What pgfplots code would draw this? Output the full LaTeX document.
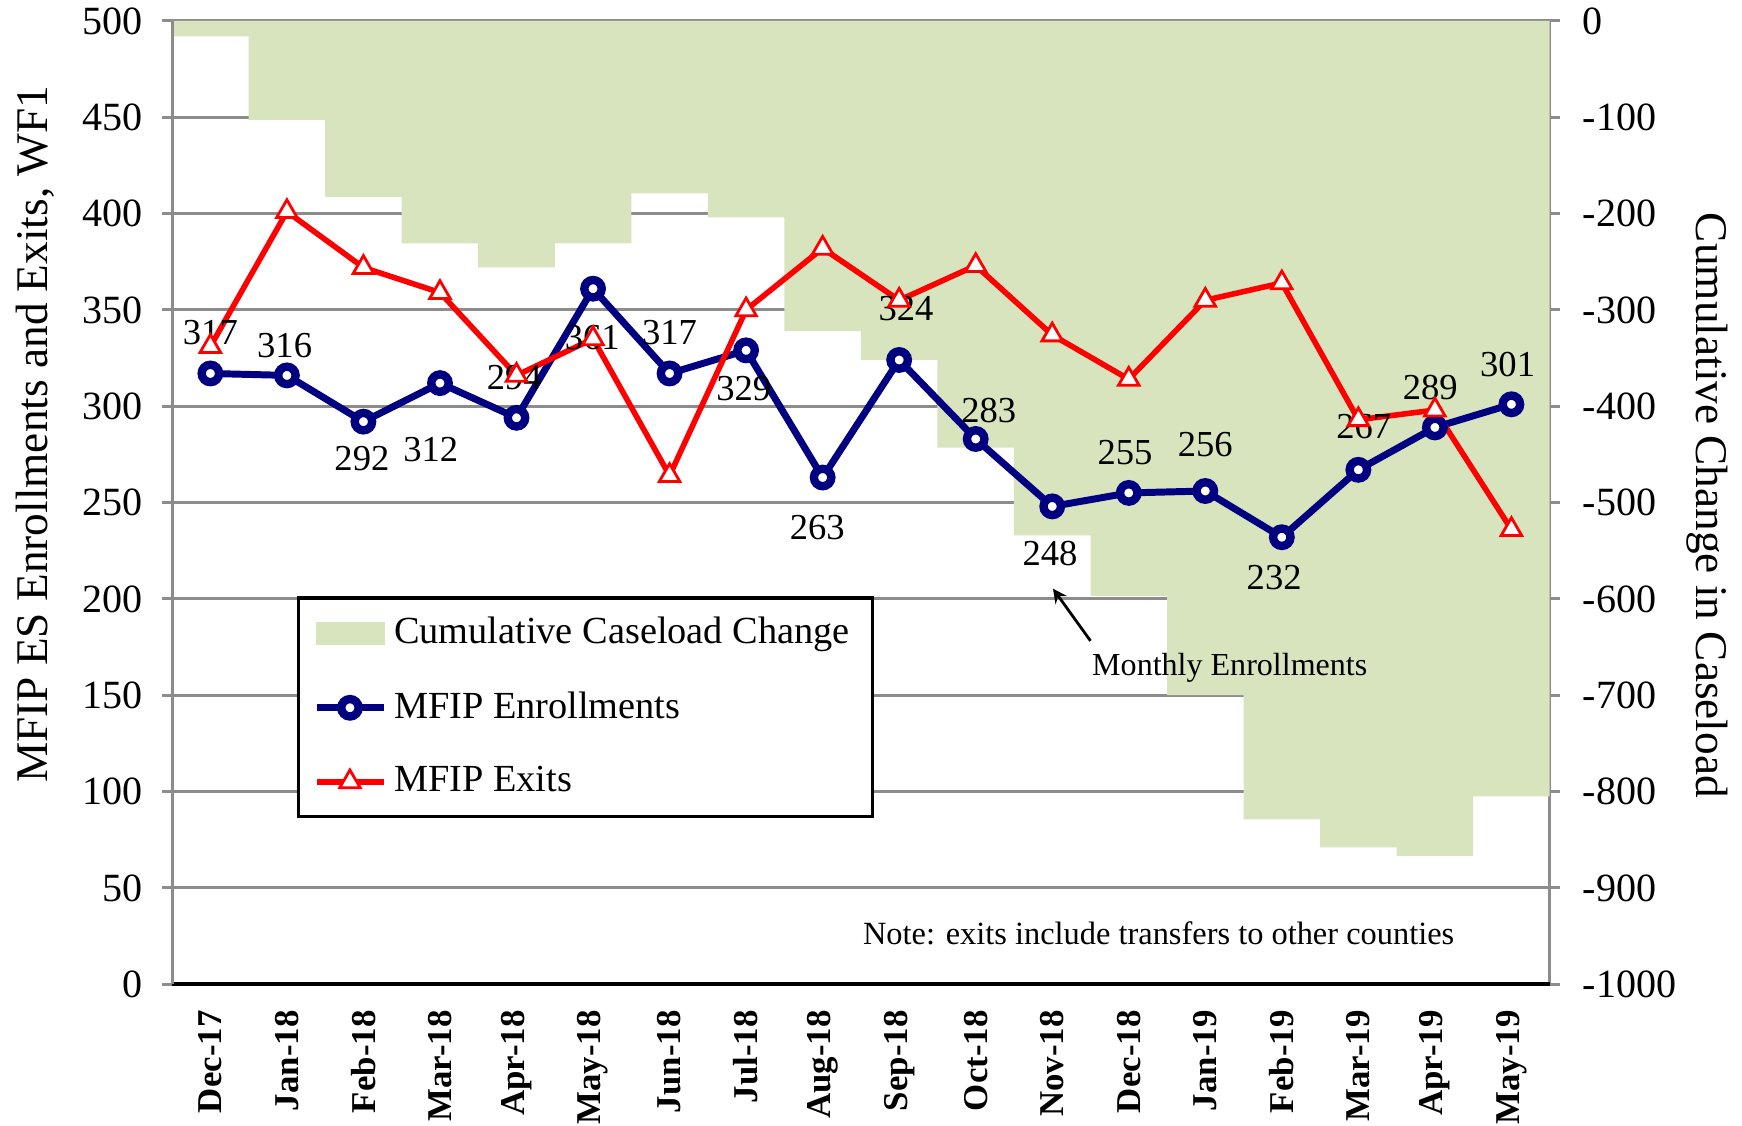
\documentclass[border=0pt]{standalone}
\usepackage{fontspec}
\setmainfont{Liberation Serif}
\usepackage{pgfplots}
\pgfplotsset{compat=1.18}
\definecolor{cgreen}{HTML}{D7E4BD}
\definecolor{cnavy}{HTML}{000080}
\definecolor{cgrid}{HTML}{8C8C8C}
\begin{document}
\begin{tikzpicture}
% right axis: cumulative caseload change (area, behind)
\begin{axis}[
  at={(0,0)}, anchor=south west, scale only axis,
  width=395.4pt, height=276.5pt,
  xmin=-0.5, xmax=17.5, ymin=-1000, ymax=0,
  axis y line*=right, axis x line=none,
  ytick={-1000,-900,...,0},
  ymajorgrids, grid style={cgrid, line width=0.8pt},
  y axis line style={cgrid, line width=0.8pt, -},
  ytick style={cgrid, line width=0.8pt},
  tick align=outside, major tick length=3pt,
  yticklabel style={font=\fontsize{11.5}{13}\selectfont, xshift=3pt},
  /pgf/number format/assume math mode=true,
  /pgf/number format/1000 sep={},
]
\addplot[ybar, bar width=1, fill=cgreen, draw=none] coordinates {
(0,-16) (1,-103) (2,-183) (3,-231) (4,-256) (5,-231) (6,-179) (7,-204) (8,-322)
(9,-352) (10,-443) (11,-534) (12,-597) (13,-700) (14,-829) (15,-858) (16,-867) (17,-805)};
\end{axis}
% left axis: enrollments and exits
\begin{axis}[
  at={(0,0)}, anchor=south west, scale only axis,
  width=395.4pt, height=276.5pt,
  xmin=-0.5, xmax=17.5, ymin=0, ymax=500,
  axis y line*=left, axis x line*=bottom,
  clip=false,
  xtick={0,...,17},
  xticklabels={Dec-17,Jan-18,Feb-18,Mar-18,Apr-18,May-18,Jun-18,Jul-18,Aug-18,Sep-18,Oct-18,Nov-18,Dec-18,Jan-19,Feb-19,Mar-19,Apr-19,May-19},
  xtick style={draw=none},
  minor xtick={-0.5,0.5,...,17.5},
  minor tick style={black, line width=0.8pt},
  minor tick length=5pt,
  xticklabel shift=1pt,
  xticklabel style={rotate=90, anchor=east, font=\bfseries\fontsize{10}{12}\selectfont},
  x axis line style={black, line width=1.3pt, -},
  y axis line style={cgrid, line width=0.8pt, -},
  ytick={0,50,...,500},
  ytick style={cgrid, line width=0.8pt},
  tick align=outside, major tick length=3pt,
  yticklabel style={font=\fontsize{11.5}{13}\selectfont, xshift=-2pt},
  /pgf/number format/assume math mode=true,
  legend image code/.code={\draw[mark repeat=2,mark phase=2] plot coordinates {(0cm,0cm) (0.33cm,0cm) (0.67cm,0cm)};},
  legend style={at={(rel axis cs:0.0903,0.4025)}, anchor=north west, draw=black, line width=0.9pt, fill=white,
    font=\fontsize{11}{13}\selectfont, row sep=8.3pt, inner xsep=4.5pt, inner ysep=3.5pt,
    nodes={inner xsep=2pt}},
  legend cell align=left,
]
\addlegendimage{legend image code/.code={\fill[cgreen] (0cm,-0.1cm) rectangle (0.67cm,0.1cm);}}
\addlegendentry{Cumulative Caseload Change}
\addplot[cnavy, line width=2pt, mark=*, mark size=2.5pt, mark options={fill=white, draw=cnavy, line width=2.4pt}] coordinates {
(0,317) (1,316) (2,292) (3,312) (4,294) (5,361) (6,317) (7,329) (8,263)
(9,324) (10,283) (11,248) (12,255) (13,256) (14,232) (15,267) (16,289) (17,301)};
\addlegendentry{MFIP Enrollments}
\addplot[red, line width=1.6pt, mark=triangle*, mark size=3.4pt, mark options={fill=white, draw=red, line width=0.8pt}] coordinates {
(0,331) (1,401) (2,372) (3,359) (4,316) (5,335) (6,264) (7,350) (8,382)
(9,355) (10,373) (11,337) (12,314) (13,355) (14,364) (15,293) (16,298) (17,236)};
\addlegendentry{MFIP Exits}
% data labels
\begin{scope}[every node/.style={font=\fontsize{10.5}{12}\selectfont}]
\node at (axis cs:0,338) {317};
\node at (axis cs:0.97,331.6) {316};
\node at (axis cs:1.98,272.8) {292};
\node at (axis cs:2.88,277.4) {312};
\node at (axis cs:3.97,315) {294};
\node at (axis cs:4.99,335.6) {361};
\node at (axis cs:6.0,338) {317};
\node at (axis cs:6.97,309) {329};
\node at (axis cs:7.93,237) {263};
\node at (axis cs:9.09,350.6) {324};
\node at (axis cs:10.17,297.6) {283};
\node at (axis cs:10.97,223.8) {248};
\node at (axis cs:11.95,275.7) {255};
\node at (axis cs:13.0,280.3) {256};
\node at (axis cs:13.9,211) {232};
\node at (axis cs:15.07,289.5) {267};
\node at (axis cs:15.94,309.7) {289};
\node at (axis cs:16.95,321.8) {301};
\end{scope}
\draw[-stealth, line width=0.8pt] (axis cs:11.5,178.2) -- (axis cs:11.01,205.3);
\node[font=\fontsize{9.2}{11}\selectfont] at (axis cs:13.32,164.4) {Monthly Enrollments};
\node[font=\fontsize{9.3}{11}\selectfont] at (axis cs:12.39,26.5) {Note: exits include transfers to other counties};
\node[rotate=90, font=\fontsize{13}{15}\selectfont] at ([xshift=-39.4pt]rel axis cs:0,0.571) {MFIP ES Enrollments and Exits, WF1};
\node[rotate=-90, font=\fontsize{13}{15}\selectfont] at ([xshift=45.3pt]rel axis cs:1,0.497) {Cumulative Change in Caseload};
\end{axis}
\pgfresetboundingbox
\path (-49.4pt,-40.5pt) rectangle (450.6pt,282.5pt);
\end{tikzpicture}
\end{document}
